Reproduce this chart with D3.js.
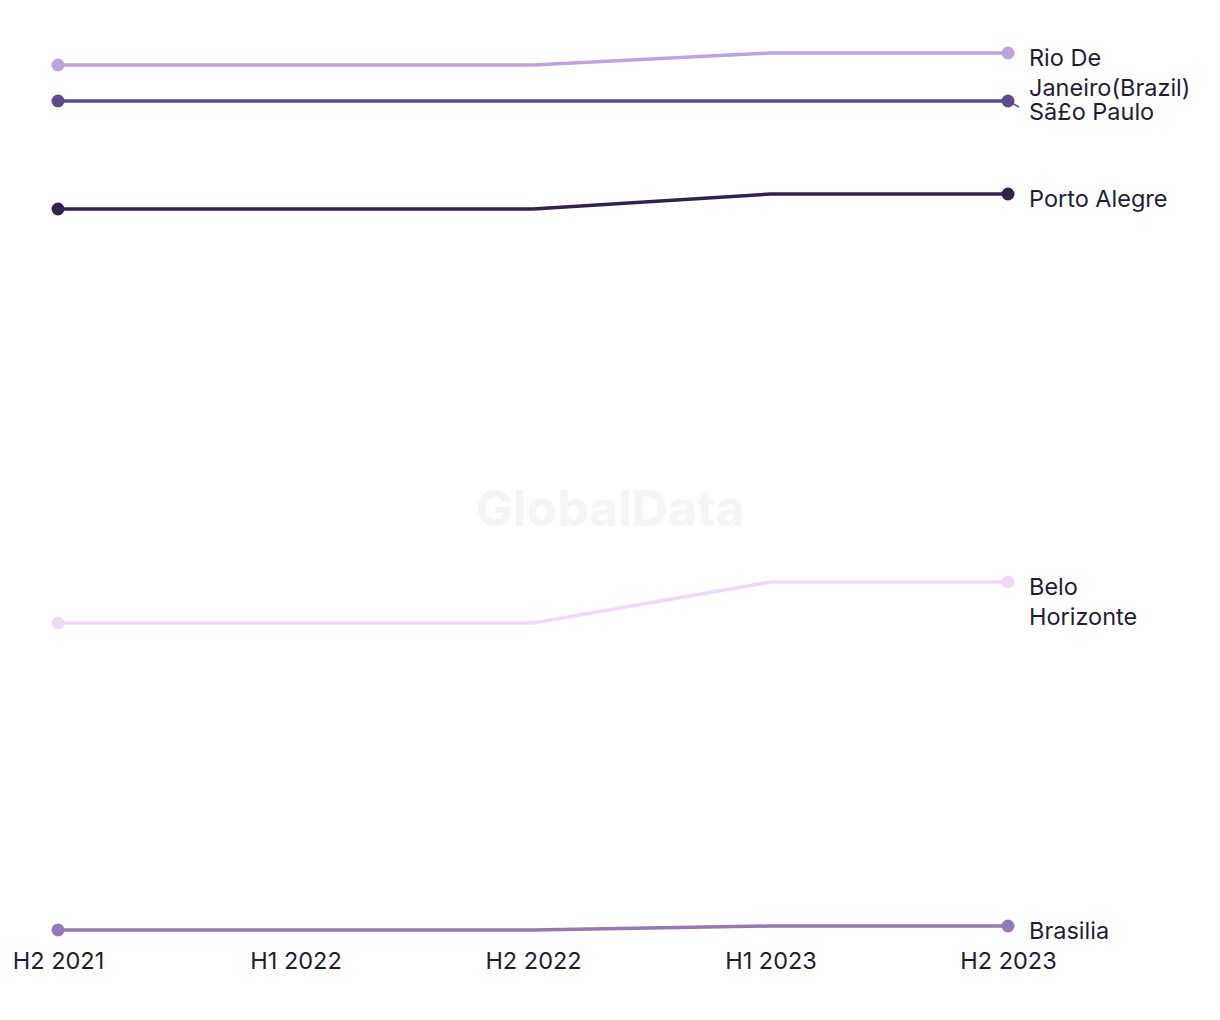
<!DOCTYPE html>
<html>
<head>
<meta charset="utf-8">
<script src="https://cdn.jsdelivr.net/npm/d3@7"></script>
<style>
  html, body { margin: 0; padding: 0; background: #ffffff; }
  svg { display: block; font-family: Inter, "Open Sans", "DejaVu Sans", sans-serif; }
</style>
</head>
<body>
<svg id="chart" width="1220" height="1020"></svg>
<script>
// ---- data ----
const periods = ["H2 2021", "H1 2022", "H2 2022", "H1 2023", "H2 2023"];
const cities = ["Rio De Janeiro(Brazil)", "Sã£o Paulo", "Porto Alegre", "Belo Horizonte", "Brasilia"];
const cityLabelLines = [["Rio De", "Janeiro(Brazil)"], ["Sã£o Paulo"], ["Porto Alegre"], ["Belo", "Horizonte"], ["Brasilia"]];
const rioValues = [865, 865, 865, 877, 877];
const saoPauloValues = [829, 829, 829, 829, 829];
const portoAlegreValues = [721, 721, 721, 736, 736];
const beloHorizonteValues = [307, 307, 307, 348, 348];
const brasiliaValues = [0, 0, 0, 4, 4];
const seriesColors = ["#bea3e0", "#5f4b8b", "#33214f", "#f1d8fb", "#9479b5"];

const seriesValues = [rioValues, saoPauloValues, portoAlegreValues, beloHorizonteValues, brasiliaValues];
const series = cities.map((c, i) => ({ name: c, lines: cityLabelLines[i], values: seriesValues[i], color: seriesColors[i] }));

// ---- layout ----
const svg = d3.select("#chart");
const x = d3.scalePoint().domain(periods).range([58, 1008]);
const y = d3.scaleLinear().domain([0, 877]).range([930, 53]);

// watermark
svg.append("text")
  .attr("x", 610).attr("y", 512)
  .attr("text-anchor", "middle").attr("dominant-baseline", "middle")
  .attr("font-size", 50).attr("font-weight", 700)
  .attr("fill", "#f5f5f5")
  .text("GlobalData");

// x axis
const xAxis = d3.axisBottom(x).tickSize(0).tickPadding(0);
const gx = svg.append("g").attr("transform", "translate(0,952)").call(xAxis);
gx.select(".domain").remove();
gx.selectAll("text")
  .attr("font-size", 23.5).attr("fill", "#1f1d35")
  .attr("font-family", "Inter, 'Open Sans', sans-serif")
  .attr("dy", "0.72em");

// lines
const line = d3.line().x((d, i) => x(periods[i])).y(d => y(d));
const g = svg.append("g");
series.forEach(s => {
  g.append("path")
    .attr("d", line(s.values))
    .attr("fill", "none")
    .attr("stroke", s.color)
    .attr("stroke-width", 3.5);
  g.selectAll(null).data([s.values[0], s.values[s.values.length - 1]]).enter()
    .append("circle")
    .attr("cx", (d, i) => i === 0 ? x(periods[0]) : x(periods[periods.length - 1]))
    .attr("cy", d => y(d))
    .attr("r", 6.5)
    .attr("fill", s.color);
});

// end labels with simple collision avoidance
const lineH = 30, gapH = 24;
const order = series.slice().sort((a, b) => y(a.values[4]) - y(b.values[4]));
let lastBottom = -Infinity;
const lx = x(periods[4]) + 21;
order.forEach(s => {
  const dotY = y(s.values[4]);
  const want = dotY + 7;
  const top = Math.max(want, lastBottom + gapH);
  if (top - want > 2) {
    svg.append("line")
      .attr("x1", x(periods[4])).attr("y1", dotY)
      .attr("x2", x(periods[4]) + 11).attr("y2", dotY + 6)
      .attr("stroke", s.color).attr("stroke-width", 1.5);
  }
  const t = svg.append("text")
    .attr("font-size", 23.5).attr("fill", "#1f1d35");
  s.lines.forEach((ln, i) => {
    t.append("tspan")
      .attr("x", lx).attr("y", top + i * lineH)
      .attr("dominant-baseline", "middle")
      .text(ln);
  });
  lastBottom = top + (s.lines.length - 1) * lineH;
});
</script>
</body>
</html>
